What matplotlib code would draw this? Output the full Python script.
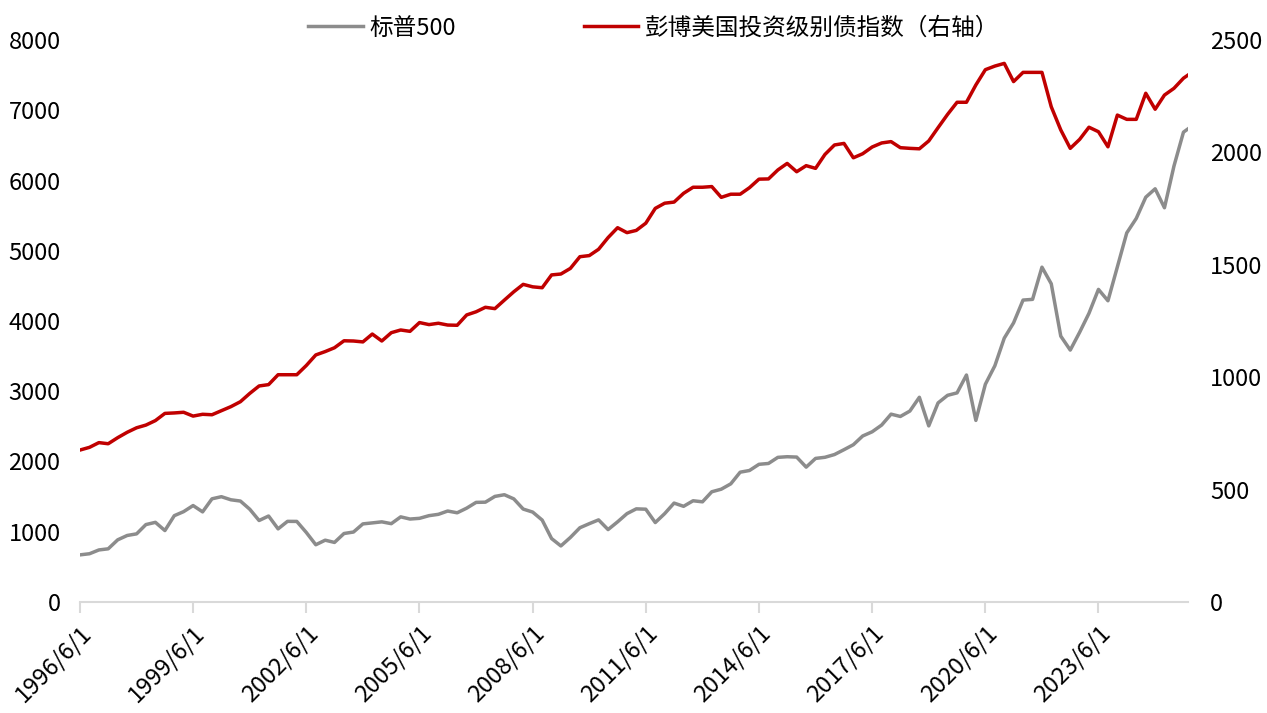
import pandas as pd
import matplotlib
matplotlib.use("Agg")
import matplotlib.pyplot as plt

plt.rcParams['font.family'] = ['Noto Sans CJK SC', 'DejaVu Sans']

# quarterly points from 1996/6/1, plus one last partial point
start = '1996-06-01'
n_quarters = 118
last_date = '2025-10-15'

sp500 = [671, 687, 741,
         757, 885, 947, 970,
         1102, 1134, 1017, 1229,
         1286, 1373, 1283, 1469,
         1499, 1455, 1437, 1320,
         1160, 1224, 1041, 1148,
         1147, 990, 815, 880,
         848, 975, 996, 1112,
         1126, 1141, 1115, 1212,
         1181, 1191, 1229, 1248,
         1295, 1270, 1336, 1418,
         1421, 1503, 1527, 1468,
         1323, 1280, 1166, 903,
         798, 919, 1057, 1115,
         1169, 1031, 1141, 1258,
         1326, 1321, 1131, 1258,
         1408, 1362, 1441, 1426,
         1569, 1606, 1682, 1848,
         1872, 1960, 1972, 2059,
         2068, 2063, 1920, 2044,
         2060, 2099, 2168, 2239,
         2363, 2423, 2519, 2674,
         2641, 2718, 2914, 2507,
         2834, 2942, 2977, 3231,
         2585, 3100, 3363, 3756,
         3973, 4298, 4308, 4766,
         4530, 3785, 3586, 3840,
         4109, 4450, 4288, 4770,
         5254, 5460, 5762, 5882,
         5612, 6205, 6688, 6735]

bond_idx = [676, 688, 709, 704, 731, 755, 775, 787, 807, 839,
            841, 844, 827, 835, 833, 851, 869, 891, 928, 961,
            967, 1011, 1011, 1011, 1052, 1099, 1114, 1131, 1162, 1161,
            1157, 1192, 1161, 1198, 1210, 1204, 1243, 1234, 1240, 1232,
            1231, 1277, 1291, 1311, 1305, 1343, 1380, 1413, 1402, 1398,
            1455, 1459, 1484, 1536, 1541, 1569, 1621, 1665, 1643, 1653,
            1685, 1751, 1774, 1779, 1818, 1845, 1845, 1848, 1800, 1814,
            1814, 1843, 1881, 1882, 1922, 1951, 1914, 1941, 1929, 1991,
            2033, 2040, 1976, 1994, 2024, 2042, 2048, 2021, 2018, 2016,
            2051, 2110, 2169, 2223, 2223, 2300, 2368, 2384, 2396, 2315,
            2356, 2356, 2356, 2203, 2100, 2018, 2058, 2112, 2092, 2025,
            2166, 2147, 2147, 2263, 2192, 2255, 2285, 2330, 2344]

x_labels = ['1996/6/1', '1999/6/1', '2002/6/1', '2005/6/1', '2008/6/1',
            '2011/6/1', '2014/6/1', '2017/6/1', '2020/6/1', '2023/6/1']
left_ticks = [0, 1000, 2000, 3000, 4000, 5000, 6000, 7000, 8000]
right_ticks = [0, 500, 1000, 1500, 2000, 2500]

name_sp = '标普500'
name_bond = '彭博美国投资级别债指数（右轴）'

dates = list(pd.date_range(start, periods=n_quarters, freq='3MS')) + [pd.Timestamp(last_date)]

GRAY = '#8c8c8c'
RED = '#c00000'
FS = 17

fig = plt.figure(figsize=(12.67, 7.13), dpi=100)
ax = fig.add_axes([80 / 1267, 1 - 602 / 713, 1108 / 1267, 562 / 713])
ax2 = ax.twinx()

l1, = ax.plot(dates, sp500, color=GRAY, lw=2.5, label=name_sp, solid_joinstyle='round')
l2, = ax2.plot(dates, bond_idx, color=RED, lw=2.5, label=name_bond, solid_joinstyle='round')

ax.set_xlim(dates[0], dates[-1])
ax.set_ylim(0, 8000)
ax2.set_ylim(0, 2500)
ax.set_yticks(left_ticks)
ax.set_yticklabels([str(v) for v in left_ticks], fontsize=FS)
ax2.set_yticks(right_ticks)
ax2.set_yticklabels([str(v) for v in right_ticks], fontsize=FS)

ax.set_xticks(pd.to_datetime(x_labels, format='%Y/%m/%d'))
ax.set_xticklabels(x_labels, fontsize=FS, rotation=45, ha='right',
                   rotation_mode='anchor')

for a in (ax, ax2):
    for s in ('top', 'left', 'right', 'bottom'):
        a.spines[s].set_visible(False)
ax.spines['bottom'].set_visible(True)
ax.spines['bottom'].set_color('#d9d9d9')
ax.spines['bottom'].set_linewidth(1.5)
ax.tick_params(axis='x', length=8, width=1.5, color='#d9d9d9', pad=6)
ax.tick_params(axis='y', length=0, pad=14)
ax2.tick_params(axis='y', length=0, pad=16)

fig.legend([l1, l2], [name_sp, name_bond], loc='center',
           bbox_to_anchor=(654 / 1267, 1 - 28 / 713), ncol=2, frameon=False,
           fontsize=FS, handlelength=2.3, handletextpad=0.3, columnspacing=5.4)

fig.savefig('out.png', dpi=100)
